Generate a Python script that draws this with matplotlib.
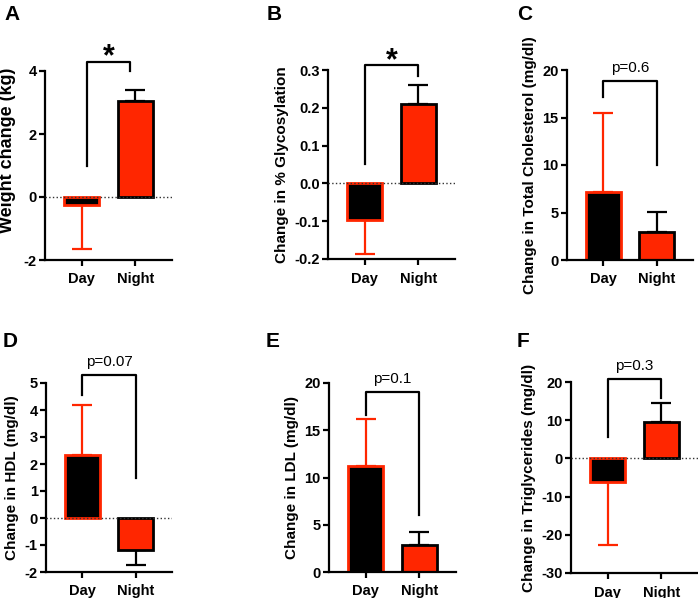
import matplotlib
matplotlib.use("Agg")
import matplotlib.pyplot as plt

plt.rcParams['font.family'] = ['Liberation Sans', 'DejaVu Sans']

categories = ["Day", "Night"]

weight_mean = [-0.25, 3.05]
weight_err = [1.40, 0.35]
glyco_mean = [-0.097, 0.209]
glyco_err = [0.091, 0.052]
chol_mean = [7.2, 3.0]
chol_err = [8.25, 2.05]
hdl_mean = [2.33, -1.2]
hdl_err = [1.87, 0.55]
ldl_mean = [11.2, 2.9]
ldl_err = [5.0, 1.3]
tg_mean = [-6.3, 9.55]
tg_err = [16.4, 4.95]

ylabels = ["Weight change (kg)", "Change in % Glycosylation",
           "Change in Total Cholesterol (mg/dl)", "Change in HDL (mg/dl)",
           "Change in LDL (mg/dl)", "Change in Triglycerides (mg/dl)"]
ylabel_sizes = [13, 11, 11, 11, 11, 11]
panel_letters = ["A", "B", "C", "D", "E", "F"]
yticks_list = [[-2, 0, 2, 4],
               [-0.2, -0.1, 0.0, 0.1, 0.2, 0.3],
               [0, 5, 10, 15, 20],
               [-2, -1, 0, 1, 2, 3, 4, 5],
               [0, 5, 10, 15, 20],
               [-30, -20, -10, 0, 10, 20]]
ytick_fmt = ["{:g}", "{:.1f}", "{:g}", "{:g}", "{:g}", "{:g}"]
# bracket: left foot, right foot, top, label
brackets = [(1.0, 4.0, 4.3, "*"),
            (0.05, 0.285, 0.313, "*"),
            (17.2, 10.0, 18.8, "p=0.6"),
            (4.57, 1.5, 5.3, "p=0.07"),
            (16.6, 6.0, 19.0, "p=0.1"),
            (5.5, 15.7, 20.9, "p=0.3")]
bracket_x = [(0.1, 0.9), (0, 1), (0, 1), (0, 1), (0, 1), (0, 1)]

means = [weight_mean, glyco_mean, chol_mean, hdl_mean, ldl_mean, tg_mean]
errs = [weight_err, glyco_err, chol_err, hdl_err, ldl_err, tg_err]

RED = '#FF2600'
W, H = 698, 598
fig = plt.figure(figsize=(W / 100, H / 100), dpi=100)

# axes pixel boxes: left, right, top, bottom
boxes = [(45, 172, 71, 260), (328, 455, 70, 259), (567, 693, 70, 260),
         (46, 172, 383, 572), (329, 456, 383, 572), (571, 698, 382, 573)]
letter_pos = [(4, 5), (267, 5), (517, 5), (3, 332), (266, 332), (517, 332)]

for i in range(6):
    l, r, t, b = boxes[i]
    ax = fig.add_axes([l / W, (H - b) / H, (r - l) / W, (b - t) / H])
    m = means[i]
    e = errs[i]
    x = [0, 1]
    face = ['black', RED]
    edge = [RED, 'black']
    for j in range(2):
        lower = e[j] if m[j] < 0 else 0
        upper = e[j] if m[j] > 0 else 0
        ax.errorbar(x[j], m[j], yerr=[[lower], [upper]], color=edge[j],
                    capsize=7.5, elinewidth=1.6, capthick=1.6, zorder=1)
        ax.bar(x[j], m[j], width=0.65, color=face[j], edgecolor=edge[j],
               linewidth=2, zorder=2)
    yt = yticks_list[i]
    ax.set_ylim(yt[0], yt[-1])
    ax.set_xlim(-0.68, 1.68)
    ax.set_yticks(yt)
    ax.set_yticklabels([ytick_fmt[i].format(v) for v in yt])
    ax.set_xticks(x)
    ax.set_xticklabels(categories)
    if yt[0] < 0:
        ax.axhline(0, color='#333333', lw=1, ls=':', zorder=3)
    for s in ['top', 'right']:
        ax.spines[s].set_visible(False)
    for s in ['left', 'bottom']:
        ax.spines[s].set_linewidth(1.6)
    ax.tick_params(width=1.6, length=4, labelsize=10.5, direction='out')
    ax.tick_params(axis='y', pad=2)
    ax.tick_params(axis='x', pad=5)
    for lab in ax.get_xticklabels() + ax.get_yticklabels():
        lab.set_fontweight('bold')
    ax.set_ylabel(ylabels[i], fontsize=ylabel_sizes[i], fontweight='bold',
                  labelpad=4)
    if i == 0:
        ax.yaxis.set_label_coords(-0.232, 0.58)
    lf, rf, top, txt = brackets[i]
    x0, x1 = bracket_x[i]
    ax.plot([x0, x0, x1, x1], [lf, top, top, rf], color='black', lw=1.6,
            clip_on=False, zorder=4)
    if txt == "*":
        ax.annotate(txt, ((x0 + x1) / 2, top), xytext=(0, -3),
                    textcoords='offset points', ha='center', va='baseline',
                    fontsize=22, fontweight='bold', annotation_clip=False)
    else:
        ax.annotate(txt, ((x0 + x1) / 2, top), xytext=(0, 6.5),
                    textcoords='offset points', ha='center', va='baseline',
                    fontsize=11, annotation_clip=False)
    lx, ly = letter_pos[i]
    fig.text(lx / W, 1 - ly / H, panel_letters[i], ha='left', va='top',
             fontsize=15, fontweight='bold')

fig.savefig("out.png", dpi=100)
